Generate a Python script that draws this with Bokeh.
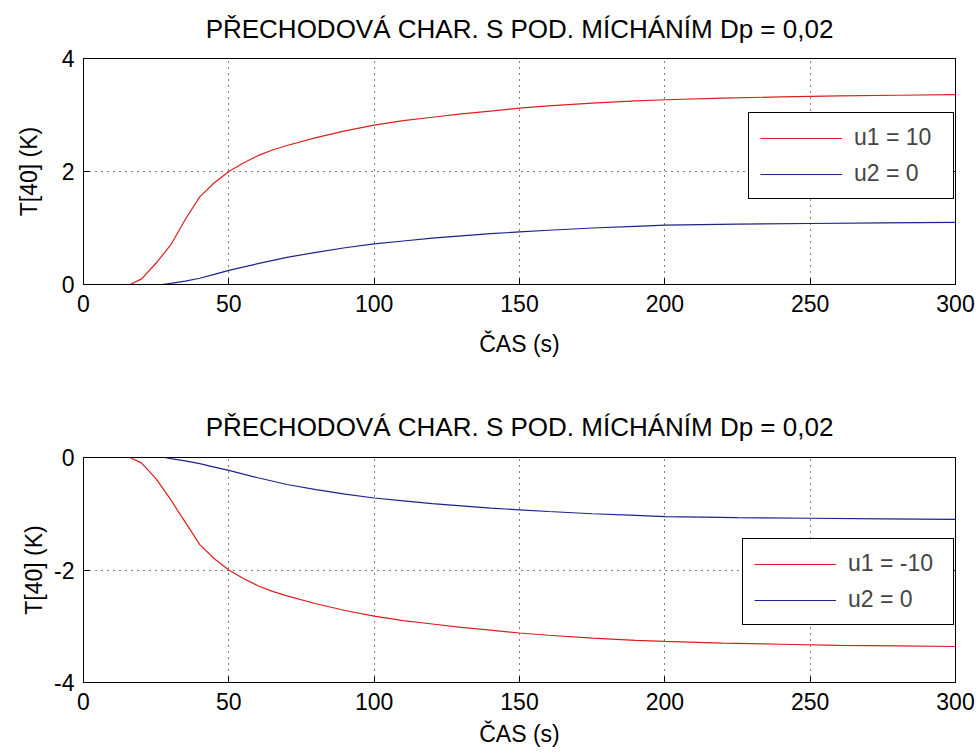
from bokeh.plotting import figure
from bokeh.models import Range1d, FixedTicker, Legend, LegendItem, LinearAxis
from bokeh.layouts import column
from bokeh.embed import file_html
from bokeh.resources import INLINE

TITLE = "PŘECHODOVÁ CHAR. S POD. MÍCHÁNÍM Dp = 0,02"
X_LABEL = "ČAS (s)"
Y_LABEL = "T[40] (K)"
x_ticks = [0, 50, 100, 150, 200, 250, 300]
top_y_ticks = [0, 2, 4]
bot_y_ticks = [-4, -2, 0]
bot_y_tick_labels = {-4: "-4", -2: "-2", 0: "0"}

# top panel: u1 = 10 (red), u2 = 0 (blue)
t_top_u1 = [0, 10, 16, 20, 25, 30, 35, 40, 45, 50, 55, 60, 65, 70, 80, 90, 100, 110,
            120, 130, 140, 150, 160, 175, 190, 200, 220, 240, 260, 280, 300]
top_u1 = [0, 0, 0, 0.1, 0.38, 0.7, 1.15, 1.55, 1.8, 2.0, 2.15, 2.28, 2.38, 2.46, 2.6,
          2.72, 2.82, 2.9, 2.96, 3.02, 3.07, 3.12, 3.16, 3.21, 3.25, 3.27, 3.3, 3.32,
          3.34, 3.35, 3.36]
t_top_u2 = [0, 10, 20, 27, 30, 35, 40, 45, 50, 60, 70, 80, 90, 100, 110, 120, 130, 140,
            150, 160, 175, 190, 200, 225, 250, 275, 300]
top_u2 = [0, 0, 0, 0, 0.02, 0.06, 0.11, 0.18, 0.25, 0.37, 0.48, 0.57, 0.65, 0.72, 0.77,
          0.82, 0.86, 0.9, 0.93, 0.96, 1.0, 1.03, 1.05, 1.07, 1.08, 1.09, 1.1]

# bottom panel: u1 = -10 (red), u2 = 0 (blue)
t_bot_u1 = [16, 20, 25, 30, 35, 40, 45, 50, 55, 60, 65, 70, 80, 90, 100, 110,
            120, 130, 140, 150, 160, 175, 190, 200, 220, 240, 260, 280, 300]
bot_u1 = [0, -0.1, -0.38, -0.75, -1.15, -1.55, -1.8, -2.0, -2.15, -2.28, -2.38, -2.46,
          -2.6, -2.72, -2.82, -2.9, -2.96, -3.02, -3.07, -3.12, -3.16, -3.21, -3.25,
          -3.27, -3.3, -3.32, -3.34, -3.35, -3.36]
t_bot_u2 = [28, 30, 35, 40, 45, 50, 60, 70, 80, 90, 100, 110, 120, 130, 140,
            150, 160, 175, 190, 200, 225, 250, 275, 300]
bot_u2 = [0, -0.02, -0.06, -0.11, -0.17, -0.23, -0.36, -0.48, -0.57, -0.65, -0.72,
          -0.77, -0.82, -0.86, -0.9, -0.93, -0.96, -1.0, -1.03, -1.05, -1.07, -1.08,
          -1.09, -1.1]

RED = "#dc1e1e"
BLUE = "#20208c"
FONT = "Liberation Sans"
FS = "23px"
TITLE_FS = "26px"


def make_panel(frame_h, b_top, b_bottom, y0, y1, yticks, series, legend_xy,
               ylab_standoff, title_va, title_standoff, xlab_standoff, label_w,
               overrides=None):
    p = figure(frame_width=872, frame_height=frame_h,
               min_border_left=83, min_border_right=23,
               min_border_top=b_top, min_border_bottom=b_bottom,
               x_range=Range1d(0, 300), y_range=Range1d(y0, y1),
               output_backend="svg", toolbar_location=None,
               background_fill_color="white", border_fill_color="white")
    p.title.text = TITLE
    p.title.align = "center"
    p.title.text_font = FONT
    p.title.text_font_size = TITLE_FS
    p.title.text_font_style = "normal"
    p.title.text_color = "black"
    p.title.vertical_align = title_va
    p.title.standoff = title_standoff

    p.outline_line_color = "black"
    p.outline_line_alpha = 1.0
    p.outline_line_width = 1

    for ax in (p.xaxis[0], p.yaxis[0]):
        ax.major_tick_in = 6
        ax.major_tick_out = 0
        ax.minor_tick_line_color = None
        ax.axis_line_color = "black"
        ax.major_tick_line_color = "black"
        ax.major_label_text_font = FONT
        ax.major_label_text_font_size = FS
        ax.major_label_text_color = "black"
        ax.axis_label_text_font = FONT
        ax.axis_label_text_font_size = FS
        ax.axis_label_text_font_style = "normal"
        ax.axis_label_text_color = "black"
    p.xaxis[0].ticker = FixedTicker(ticks=x_ticks)
    p.yaxis[0].ticker = FixedTicker(ticks=yticks)
    if overrides:
        p.yaxis[0].major_label_overrides = overrides
    p.xaxis[0].axis_label = X_LABEL
    p.yaxis[0].axis_label = Y_LABEL
    p.xaxis[0].major_label_standoff = 10
    p.xaxis[0].axis_label_standoff = xlab_standoff
    p.yaxis[0].major_label_standoff = 9
    p.yaxis[0].axis_label_standoff = ylab_standoff

    # inward tick marks on the right edge, no labels
    rax = LinearAxis(ticker=FixedTicker(ticks=yticks), major_label_text_color=None,
                     major_label_text_font_size="1px", major_label_standoff=0,
                     major_tick_in=6, major_tick_out=0, minor_tick_line_color=None,
                     axis_line_color="black", major_tick_line_color="black")
    p.add_layout(rax, "right")

    for g in (p.xgrid[0], p.ygrid[0]):
        g.grid_line_color = "black"
        g.grid_line_dash = "1 5"
        g.grid_line_width = 1
        g.grid_line_alpha = 1.0

    items = []
    for (xs, ys, col, lab) in series:
        r = p.line(xs, ys, line_color=col, line_width=1.2)
        items.append(LegendItem(label=lab, renderers=[r]))
    leg = Legend(items=items, location=legend_xy, margin=0, padding=11, spacing=9,
                 glyph_width=82, glyph_height=20, label_standoff=12, label_width=label_w,
                 label_text_font=FONT, label_text_font_size=FS,
                 border_line_color="black", border_line_width=1, border_line_alpha=1,
                 background_fill_color="white", background_fill_alpha=1)
    p.add_layout(leg)
    return p


p1 = make_panel(226, 58, 96, 0, 4, top_y_ticks,
                [(t_top_u1, top_u1, RED, "u1 = 10"), (t_top_u2, top_u2, BLUE, "u2 = 0")],
                (665, 85), 17, "top", 26, 16, 88)
p2 = make_panel(225, 77, 73, -4, 0, bot_y_ticks,
                [(t_bot_u1, bot_u1, RED, "u1 = -10"), (t_bot_u2, bot_u2, BLUE, "u2 = 0")],
                (659, 57), 4, "bottom", 32, 8, 94, bot_y_tick_labels)

layout = column(p1, p2, spacing=0)
open("out.html", "w").write(file_html(layout, INLINE))
